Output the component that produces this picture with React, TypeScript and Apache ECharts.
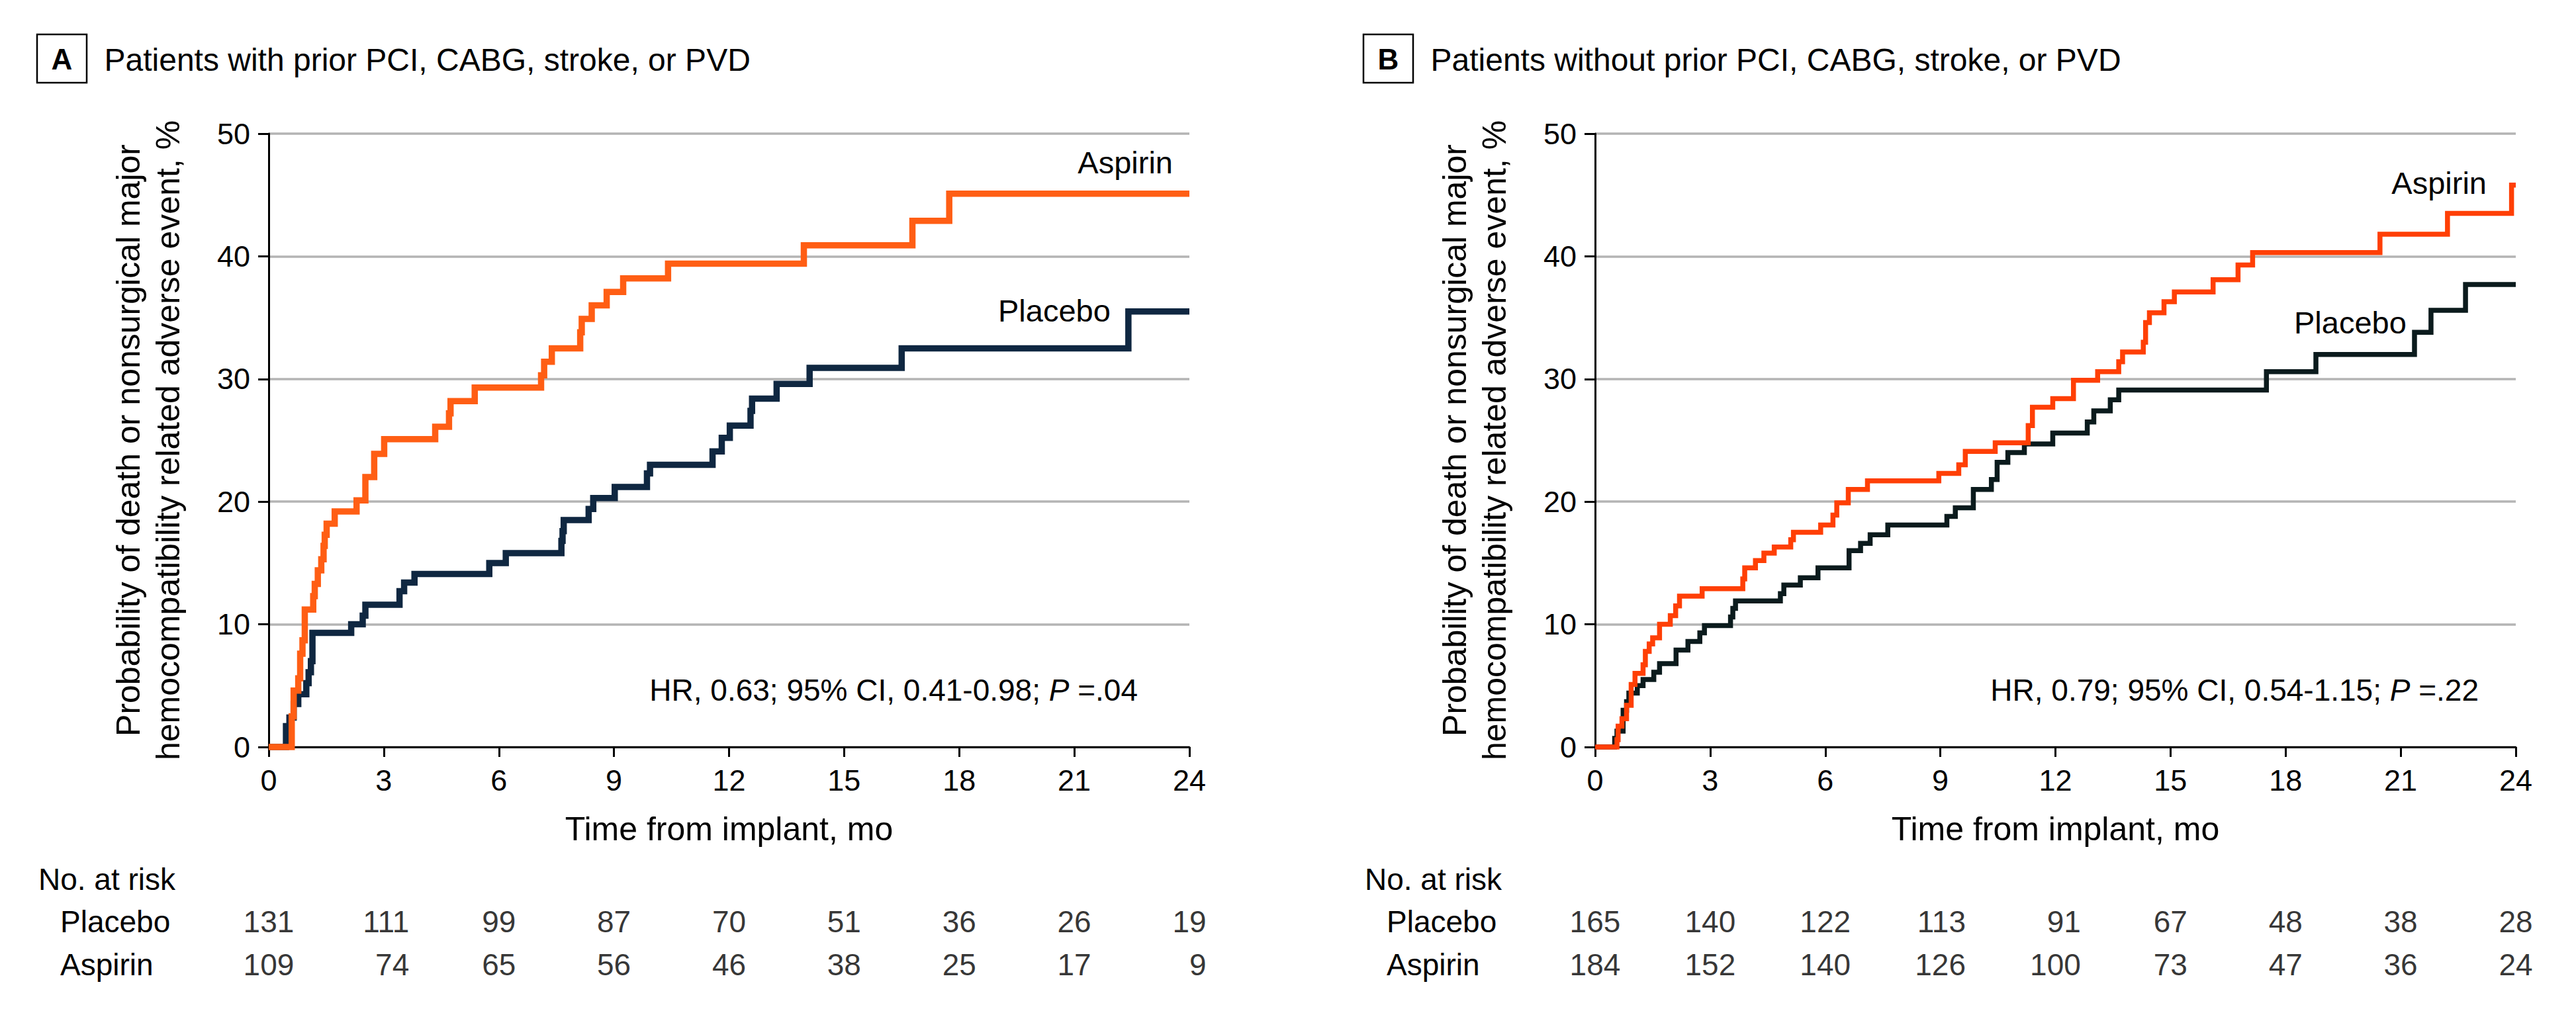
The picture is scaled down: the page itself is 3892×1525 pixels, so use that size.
import React, { useEffect, useRef } from "react";
import * as echarts from "echarts";

// ---------- data ----------
const riskMonths = [0, 3, 6, 9, 12, 15, 18, 21, 24];

// Panel A: patients with prior PCI, CABG, stroke, or PVD
const aPlacebo: [number, number][] = [
  [0, 0], [0.45, 1.7], [0.54, 2.4], [0.65, 3.5], [0.77, 4.3], [0.98, 5.2], [1.04, 6.1],
  [1.1, 7.0], [1.14, 9.3], [2.15, 10.0], [2.45, 10.7], [2.52, 11.6], [3.41, 12.7],
  [3.53, 13.4], [3.8, 14.1], [5.75, 15.0], [6.18, 15.8], [7.63, 16.8], [7.66, 17.6],
  [7.69, 18.5], [8.34, 19.4], [8.46, 20.3], [9.02, 21.2], [9.86, 22.3], [9.94, 23.0],
  [11.57, 24.1], [11.81, 25.2], [12.02, 26.2], [12.56, 27.4], [12.6, 28.4], [13.24, 29.6],
  [14.1, 30.9], [16.5, 32.5], [22.41, 35.5], [24, 35.5],
];
const aAspirin: [number, number][] = [
  [0, 0], [0.6, 2.5], [0.65, 4.6], [0.77, 5.6], [0.82, 7.6], [0.88, 8.7], [0.94, 11.2],
  [1.16, 12.3], [1.2, 13.3], [1.28, 14.4], [1.37, 15.3], [1.43, 16.4], [1.46, 17.3],
  [1.51, 18.2], [1.72, 19.2], [2.29, 20.1], [2.52, 22.0], [2.75, 23.9], [3.01, 25.1],
  [4.34, 26.1], [4.7, 27.2], [4.74, 28.2], [5.37, 29.3], [7.1, 30.3], [7.18, 31.4],
  [7.38, 32.5], [8.12, 33.8], [8.16, 34.9], [8.42, 36.0], [8.81, 37.1], [9.24, 38.2],
  [10.41, 39.4], [13.95, 40.9], [16.78, 42.9], [17.74, 45.1], [24, 45.1],
];
const aRiskPlacebo = [131, 111, 99, 87, 70, 51, 36, 26, 19];
const aRiskAspirin = [109, 74, 65, 56, 46, 38, 25, 17, 9];

// Panel B: patients without prior PCI, CABG, stroke, or PVD
const bPlacebo: [number, number][] = [
  [0, 0], [0.51, 0.7], [0.57, 1.3], [0.73, 3.0], [0.82, 3.7], [0.88, 4.4], [1.1, 5.0],
  [1.25, 5.5], [1.53, 6.1], [1.68, 6.8], [2.11, 7.9], [2.42, 8.6], [2.73, 9.3], [2.85, 9.9],
  [3.53, 10.6], [3.59, 11.3], [3.66, 11.9], [4.83, 12.5], [4.92, 13.2], [5.35, 13.8],
  [5.81, 14.6], [6.62, 16.0], [6.92, 16.6], [7.17, 17.3], [7.63, 18.1], [9.17, 18.8],
  [9.39, 19.5], [9.86, 21.0], [10.33, 21.8], [10.48, 23.2], [10.76, 24.0], [11.19, 24.7],
  [11.93, 25.6], [12.83, 26.5], [13.0, 27.4], [13.43, 28.3], [13.65, 29.1], [17.5, 30.6],
  [18.79, 32.0], [21.36, 33.8], [21.79, 35.6], [22.69, 37.7], [24, 37.7],
];
const bAspirin: [number, number][] = [
  [0, 0], [0.57, 0.6], [0.6, 1.7], [0.7, 2.3], [0.82, 3.4], [0.94, 5.1], [1.04, 6.0],
  [1.25, 6.7], [1.31, 7.8], [1.41, 8.4], [1.5, 8.9], [1.68, 10.0], [1.96, 10.7], [2.1, 11.5],
  [2.2, 12.3], [2.79, 12.9], [3.85, 13.7], [3.9, 14.6], [4.18, 15.2], [4.4, 15.8],
  [4.67, 16.3], [5.1, 16.9], [5.17, 17.5], [5.88, 18.1], [6.2, 18.9], [6.3, 19.9],
  [6.6, 21.0], [7.1, 21.7], [8.96, 22.3], [9.48, 23.0], [9.65, 24.1], [10.43, 24.8],
  [11.29, 26.2], [11.4, 27.7], [11.93, 28.4], [12.47, 29.9], [13.1, 30.6], [13.65, 31.4],
  [13.75, 32.2], [14.29, 33.0], [14.35, 34.6], [14.45, 35.4], [14.83, 36.3], [15.1, 37.1],
  [16.11, 38.1], [16.76, 39.3], [17.14, 40.3], [20.46, 41.8], [22.22, 43.5], [23.89, 45.8],
  [24, 45.8],
];
const bRiskPlacebo = [165, 140, 122, 113, 91, 67, 48, 38, 28];
const bRiskAspirin = [184, 152, 140, 126, 100, 73, 47, 36, 24];

const panelLetters = ["A", "B"];
const panelTitles = [
  "Patients with prior PCI, CABG, stroke, or PVD",
  "Patients without prior PCI, CABG, stroke, or PVD",
];
const hrTexts = [
  "HR, 0.63; 95% CI, 0.41-0.98; {i|P} =.04",
  "HR, 0.79; 95% CI, 0.54-1.15; {i|P} =.22",
];
const groupNames = ["Placebo", "Aspirin"];
const xTitle = "Time from implant, mo";
const yTitle = "Probability of death or nonsurgical major\nhemocompatibility related adverse event, %";
const riskTitle = "No. at risk";

// ---------- styling ----------
const FONT = '"Liberation Sans", Arial, sans-serif';
const PANEL_SHIFT = 2004;
const GRID_LEFT = [406, 2410];
const GRID_W = 1391;
const GRID_TOP = 202;
const GRID_H = 927;
const RISK_FS = 46;

export default function App() {
  const ref = useRef<HTMLDivElement>(null);

  useEffect(() => {
    document.body.style.margin = "0";
    const chart = echarts.init(ref.current!, null, { renderer: "svg" });

    const curves = [
      { placebo: aPlacebo, aspirin: aAspirin, pc: "#0f2741", ac: "#ff5e14", w: 9.5 },
      { placebo: bPlacebo, aspirin: bAspirin, pc: "#0b1b1d", ac: "#ff3f05", w: 7.5 },
    ];
    const risks = [
      { p: aRiskPlacebo, a: aRiskAspirin },
      { p: bRiskPlacebo, a: bRiskAspirin },
    ];

    const grid: any[] = [];
    const xAxis: any[] = [];
    const yAxis: any[] = [];
    const series: any[] = [];
    const graphic: any[] = [];

    const digitW = 0.556 * RISK_FS;

    for (let k = 0; k < 2; k++) {
      const left = GRID_LEFT[k];
      grid.push({ left, top: GRID_TOP, width: GRID_W, height: GRID_H });
      xAxis.push({
        gridIndex: k,
        type: "value",
        min: 0,
        max: 24,
        interval: 3,
        axisLine: { show: true, onZero: false, lineStyle: { color: "#000", width: 3 } },
        axisTick: { show: true, length: 15, lineStyle: { color: "#000", width: 3 } },
        axisLabel: { fontSize: 45, margin: 28, color: "#000", fontFamily: FONT },
        splitLine: { show: false },
      });
      yAxis.push({
        gridIndex: k,
        type: "value",
        min: 0,
        max: 50,
        interval: 10,
        axisLine: { show: true, onZero: false, lineStyle: { color: "#000", width: 3 } },
        axisTick: { show: true, length: 16, lineStyle: { color: "#000", width: 3 } },
        axisLabel: { fontSize: 45, margin: 28, color: "#000", fontFamily: FONT },
        splitLine: { show: true, lineStyle: { color: "#b4b4b4", width: 3.5 } },
      });
    }
    // risk table grids
    for (let k = 0; k < 2; k++) {
      grid.push({ left: GRID_LEFT[k], top: 1393, width: GRID_W, height: 65 });
      xAxis.push({ gridIndex: 2 + k, type: "value", min: 0, max: 24, show: false });
      yAxis.push({ gridIndex: 2 + k, type: "value", min: 0, max: 1, show: false });
    }

    for (let k = 0; k < 2; k++) {
      const c = curves[k];
      const lineCommon = {
        type: "line",
        xAxisIndex: k,
        yAxisIndex: k,
        step: "end",
        symbol: "none",
        clip: false,
        silent: true,
      };
      series.push({
        ...lineCommon,
        name: groupNames[0],
        data: c.placebo,
        lineStyle: { color: c.pc, width: c.w, cap: "butt", join: "miter" },
        z: 3,
      });
      series.push({
        ...lineCommon,
        name: groupNames[1],
        data: c.aspirin,
        lineStyle: { color: c.ac, width: c.w, cap: "butt", join: "miter" },
        z: 4,
      });

      const r = risks[k];
      const rows = [
        { vals: r.p, yv: 1 },
        { vals: r.a, yv: 0 },
      ];
      rows.forEach((row) => {
        series.push({
          type: "scatter",
          xAxisIndex: 2 + k,
          yAxisIndex: 2 + k,
          symbolSize: 1,
          itemStyle: { color: "rgba(0,0,0,0)" },
          clip: false,
          silent: true,
          data: riskMonths.map((m, i) => {
            const digits = Math.max(String(r.p[i]).length, String(r.a[i]).length);
            return {
              value: [m, row.yv, row.vals[i]],
              label: { offset: [(digits * digitW) / 2, 0] },
            };
          }),
          label: {
            show: true,
            position: "inside",
            formatter: (p: any) => String(p.value[2]),
            fontSize: RISK_FS,
            fontFamily: FONT,
            color: "#000",
            align: "right",
            verticalAlign: "middle",
          },
        });
      });

      // graphics
      const dx = k * PANEL_SHIFT;
      const txt = (x: number, y: number, text: string, extra: any = {}) => ({
        type: "text",
        x,
        y,
        silent: true,
        style: {
          text,
          fontFamily: FONT,
          fontSize: 46,
          fill: "#000",
          align: "left",
          verticalAlign: "middle",
          ...extra,
        },
      });
      graphic.push({
        type: "rect",
        silent: true,
        shape: { x: 56 + dx, y: 52, width: 75, height: 73 },
        style: { fill: "none", stroke: "#000", lineWidth: 2.5 },
      });
      graphic.push(txt(93.5 + dx, 89, panelLetters[k], { align: "center", fontWeight: "bold", fontSize: 44 }));
      graphic.push(txt(157.5 + dx, 90, panelTitles[k], { fontSize: 48 }));
      graphic.push({
        ...txt(224 + dx, 665.5, yTitle, { align: "center", fontSize: 50, lineHeight: 60 }),
        rotation: Math.PI / 2,
      });
      graphic.push(txt(GRID_LEFT[k] + GRID_W / 2, 1253, xTitle, { align: "center", fontSize: 50 }));
      graphic.push(txt(58 + dx, 1329, riskTitle));
      graphic.push(txt(91 + dx, 1393, groupNames[0]));
      graphic.push(txt(91 + dx, 1458, groupNames[1]));
      graphic.push(
        txt(k === 0 ? 1719 : 3745, 1043, hrTexts[k], {
          align: "right",
          rich: { i: { fontStyle: "italic", fontFamily: FONT, fontSize: 46, fill: "#000" } },
        })
      );
    }
    // curve labels
    graphic.push({
      type: "text", x: 1772, y: 245, silent: true,
      style: { text: groupNames[1], fontFamily: FONT, fontSize: 47, fill: "#000", align: "right", verticalAlign: "middle" },
    });
    graphic.push({
      type: "text", x: 1508, y: 469, silent: true,
      style: { text: groupNames[0], fontFamily: FONT, fontSize: 47, fill: "#000", align: "left", verticalAlign: "middle" },
    });
    graphic.push({
      type: "text", x: 3757, y: 276, silent: true,
      style: { text: groupNames[1], fontFamily: FONT, fontSize: 47, fill: "#000", align: "right", verticalAlign: "middle" },
    });
    graphic.push({
      type: "text", x: 3466, y: 487, silent: true,
      style: { text: groupNames[0], fontFamily: FONT, fontSize: 47, fill: "#000", align: "left", verticalAlign: "middle" },
    });

    chart.setOption({
      animation: false,
      backgroundColor: "#fff",
      grid,
      xAxis,
      yAxis,
      series,
      graphic,
    });

    return () => chart.dispose();
  }, []);

  return <div ref={ref} style={{ width: 3892, height: 1525, overflow: "hidden" }} />;
}
